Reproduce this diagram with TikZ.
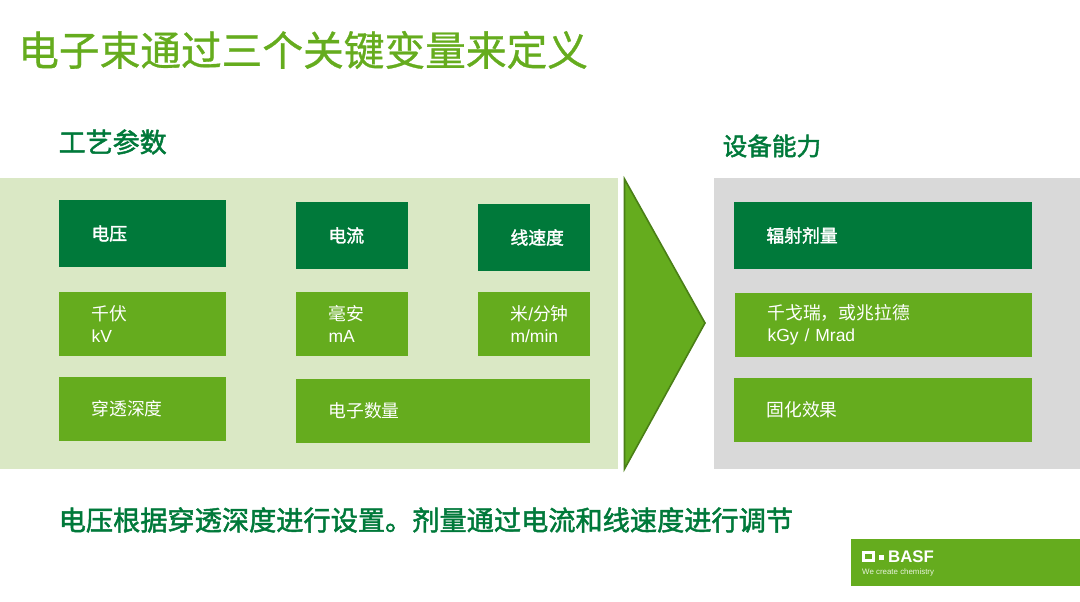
\documentclass[tikz,border=0pt]{standalone}
\usepackage{fontspec}
\setmainfont{Noto Sans CJK SC}
\newfontfamily\latinfont{Liberation Sans}
\newfontfamily\mediumfont[FakeBold=1.8]{Noto Sans CJK SC}
\newfontfamily\lightfont[FakeBold=0.8]{Noto Sans CJK SC}
\newcommand{\latintext}[1]{{\latinfont\fontsize{17.5}{21.5}\selectfont #1}}
\definecolor{basfdark}{HTML}{00793A}
\definecolor{basfgreen}{HTML}{65AC1E}
\definecolor{basflight}{HTML}{DAE8C5}
\definecolor{basfgray}{HTML}{D9D9D9}
\definecolor{basfedge}{HTML}{4A7F16}
\tikzset{
  panel/.style={anchor=north west,inner sep=0pt,outer sep=0pt},
  darkbox/.style={panel,fill=basfdark,text=white,align=left,inner xsep=32.5pt,font=\mediumfont\fontsize{17.8}{21.5}\selectfont},
  greenbox/.style={panel,fill=basfgreen,text=white,align=left,inner xsep=32.5pt,font=\fontsize{17.8}{21.5}\selectfont},
  heading/.style={anchor=west,inner sep=0pt,text=basfdark},
  boxsize/.style 2 args={minimum width=#1pt,minimum height=#2pt,text width=#1pt-65pt}
}
\begin{document}
\begin{tikzpicture}[x=1pt,y=-1pt]
\useasboundingbox (0,0) rectangle (1080,602);
% title and headings
\node[heading,text=basfgreen,font=\lightfont\fontsize{40.7}{48}\selectfont] (title) at (18,50) {电子束通过三个关键变量来定义};
\node[heading,font=\mediumfont\fontsize{27}{32}\selectfont] (params) at (58.5,142) {工艺参数};
\node[heading,font=\mediumfont\fontsize{24.6}{30}\selectfont] (ability) at (722.5,146) {设备能力};
% panels and arrow
\node[panel,fill=basflight,minimum width=618pt,minimum height=291pt] (leftpanel) at (0,178) {};
\node[panel,fill=basfgray,minimum width=366pt,minimum height=291pt] (rightpanel) at (714,178) {};
\draw[fill=basfgreen,draw=basfedge,line width=1.6pt,line join=miter] (624.5,179) -- (705,323) -- (624.5,469) -- cycle;
% left boxes
\node[darkbox,boxsize={167}{67}] (voltage) at (59,200) {电压};
\node[darkbox,boxsize={111.5}{67}] (current) at (296,202) {电流};
\node[darkbox,boxsize={111.5}{67}] (speed) at (478,204) {线速度};
\node[greenbox,boxsize={167}{64}] (kv) at (59,292) {千伏\\\latintext{kV}};
\node[greenbox,boxsize={111.5}{64}] (ma) at (296,292) {毫安\\\latintext{mA}};
\node[greenbox,boxsize={111.5}{64}] (mmin) at (478,292) {米\latintext{/}分钟\\\latintext{m/min}};
\node[greenbox,boxsize={167}{64}] (depth) at (59,377) {穿透深度};
\node[greenbox,boxsize={293.5}{64}] (electrons) at (296,379) {电子数量};
% right boxes
\node[darkbox,boxsize={298}{67}] (dose) at (734,202) {辐射剂量};
\node[greenbox,boxsize={297}{64}] (kgy) at (735,293) {千戈瑞，或兆拉德\\\latintext{kGy / Mrad}};
\node[greenbox,boxsize={298}{64}] (cure) at (734,378) {固化效果};
% bottom line
\node[heading,font=\mediumfont\fontsize{27.2}{32}\selectfont] (summary) at (58.5,520) {电压根据穿透深度进行设置。剂量通过电流和线速度进行调节};
% logo
\node[panel,fill=basfgreen,minimum width=229pt,minimum height=47pt] (logo) at (851,539) {};
\draw[white,line width=2.8pt] (863.4,552.4) rectangle (873.6,560.6);
\fill[white] (879,555) rectangle (883.5,560);
\node[anchor=west,inner sep=0pt,text=white,font=\latinfont\bfseries\fontsize{16.8}{18}\selectfont] (basf) at (888,556.5) {BASF};
\node[anchor=west,inner sep=0pt,text=white!85!basfgreen,font=\latinfont\fontsize{7.9}{10}\selectfont] (slogan) at (862,572.5) {We create chemistry};
\end{tikzpicture}
\end{document}
